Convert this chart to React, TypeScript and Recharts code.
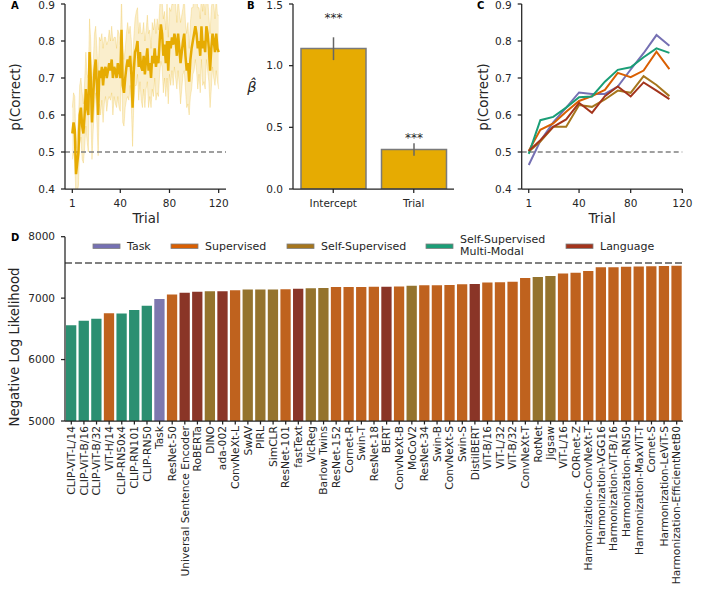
import React from 'react';
import {
  ComposedChart, LineChart, BarChart, Line, Area, Bar, Cell, XAxis, YAxis,
  ReferenceLine, ErrorBar, LabelList, Label,
} from 'recharts';

// ---------- Panel A: p(Correct) per trial (mean + CI half-width) ----------
const meanA = [
  0.55, 0.58, 0.56, 0.44, 0.47, 0.50, 0.60, 0.62, 0.57, 0.55,
  0.60, 0.67, 0.62, 0.60, 0.77, 0.70, 0.58, 0.65, 0.72, 0.75,
  0.68, 0.60, 0.72, 0.70, 0.73, 0.68, 0.72, 0.73, 0.70, 0.72,
  0.74, 0.72, 0.75, 0.70, 0.73, 0.72, 0.70, 0.74, 0.72, 0.70,
  0.83, 0.68, 0.66, 0.70, 0.73, 0.75, 0.73, 0.76, 0.71, 0.62,
  0.72, 0.77, 0.78, 0.80, 0.73, 0.77, 0.73, 0.72, 0.76, 0.71,
  0.75, 0.78, 0.72, 0.74, 0.70, 0.76, 0.74, 0.78, 0.73, 0.76,
  0.74, 0.80, 0.845, 0.82, 0.76, 0.79, 0.74, 0.80, 0.72, 0.80,
  0.78, 0.81, 0.79, 0.82, 0.80, 0.76, 0.82, 0.78, 0.74, 0.77,
  0.80, 0.82, 0.76, 0.72, 0.74, 0.69, 0.75, 0.78, 0.80, 0.82,
  0.84, 0.82, 0.78, 0.80, 0.76, 0.84, 0.78, 0.80, 0.77, 0.84,
  0.82, 0.78, 0.72, 0.78, 0.82, 0.80, 0.77, 0.82, 0.78, 0.77,
];
const halfA = [
  0.07, 0.08, 0.09, 0.07, 0.08, 0.09, 0.08, 0.08, 0.09, 0.08,
  0.09, 0.10, 0.09, 0.10, 0.09, 0.10, 0.10, 0.09, 0.10, 0.09,
  0.10, 0.11, 0.09, 0.10, 0.09, 0.10, 0.09, 0.08, 0.09, 0.08,
  0.09, 0.08, 0.09, 0.10, 0.08, 0.09, 0.08, 0.09, 0.10, 0.09,
  0.09, 0.10, 0.09, 0.08, 0.09, 0.10, 0.09, 0.08, 0.09, 0.105,
  0.09, 0.09, 0.10, 0.09, 0.09, 0.08, 0.09, 0.10, 0.09, 0.09,
  0.08, 0.09, 0.10, 0.09, 0.08, 0.09, 0.09, 0.08, 0.09, 0.10,
  0.09, 0.09, 0.10, 0.09, 0.10, 0.09, 0.09, 0.10, 0.09, 0.09,
  0.10, 0.09, 0.11, 0.09, 0.10, 0.09, 0.10, 0.10, 0.11, 0.10,
  0.09, 0.10, 0.09, 0.10, 0.11, 0.09, 0.10, 0.11, 0.09, 0.10,
  0.09, 0.10, 0.11, 0.09, 0.10, 0.09, 0.10, 0.11, 0.10, 0.09,
  0.10, 0.09, 0.10, 0.11, 0.09, 0.10, 0.09, 0.10, 0.09, 0.10,
];
const trialTicks = [1, 40, 80, 120];
const pTicks = [0.4, 0.5, 0.6, 0.7, 0.8, 0.9];

// ---------- Panel B: regression coefficients ----------
const betaNames = ['Intercept', 'Trial'];
const betaValues = [1.14, 0.32];
const betaErrLow = [0.095, 0.05];
const betaErrHigh = [0.09, 0.05];
const betaTicks = [0, 0.5, 1.0, 1.5];

// ---------- Panel C: binned p(Correct) per model type ----------
const binTrials = [1, 10, 20, 30, 40, 50, 60, 70, 80, 90, 100, 110];
const taskC = [0.465, 0.53, 0.58, 0.62, 0.661, 0.657, 0.657, 0.677, 0.723, 0.767, 0.816, 0.787];
const supC = [0.503, 0.56, 0.577, 0.609, 0.638, 0.651, 0.668, 0.714, 0.702, 0.72, 0.771, 0.724];
const sslC = [0.501, 0.528, 0.568, 0.568, 0.627, 0.622, 0.642, 0.666, 0.66, 0.705, 0.681, 0.651];
const ssmmC = [0.495, 0.586, 0.595, 0.62, 0.648, 0.65, 0.69, 0.722, 0.729, 0.756, 0.78, 0.768];
const langC = [0.503, 0.532, 0.568, 0.588, 0.633, 0.606, 0.651, 0.677, 0.65, 0.688, 0.666, 0.643];

// ---------- Panel D: negative log likelihood per model ----------
const categories = ['Task', 'Supervised', 'Self-Supervised', 'Self-Supervised Multi-Modal', 'Language'];
const lineColors: Record<string, string> = {
  'Task': '#7570b3',
  'Supervised': '#d95f02',
  'Self-Supervised': '#a6761d',
  'Self-Supervised Multi-Modal': '#1b9e77',
  'Language': '#a3341c',
};
const barColors: Record<string, string> = {
  'Task': '#7d78ae',
  'Supervised': '#bf621e',
  'Self-Supervised': '#94732d',
  'Self-Supervised Multi-Modal': '#2b8f71',
  'Language': '#8a3527',
};
const modelNames = [
  'CLIP-ViT-L/14', 'CLIP-ViT-B/16', 'CLIP-ViT-B/32', 'ViT-H/14', 'CLIP-RN50x4', 'CLIP-RN101', 'CLIP-RN50',
  'Task', 'ResNet-50', 'Universal Sentence Encoder', 'RoBERTa', 'DINO', 'ada-002', 'ConvNeXt-L', 'SwAV',
  'PIRL', 'SimCLR', 'ResNet-101', 'fastText', 'VicReg', 'Barlow Twins', 'ResNet-152', 'Cornet-R', 'Swin-T',
  'ResNet-18', 'BERT', 'ConvNeXt-B', 'MoCoV2', 'ResNet-34', 'Swin-B', 'ConvNeXt-S', 'Swin-S', 'DistilBERT',
  'ViT-B/16', 'ViT-L/32', 'ViT-B/32', 'ConvNeXt-T', 'RotNet', 'Jigsaw', 'ViT-L/16', 'CORnet-Z',
  'Harmonization-ConvNeXt-T', 'Harmonization-VGG16', 'Harmonization-ViT-B/16', 'Harmonization-RN50',
  'Harmonization-MaxViT-T', 'Cornet-S', 'Harmonization-LeViT-S', 'Harmonization-EfficientNetB0',
];
const modelNLL = [
  6560, 6630, 6665, 6752, 6750, 6806, 6877,
  6985, 7061, 7088, 7105, 7112, 7114, 7130, 7140,
  7141, 7142, 7143, 7152, 7162, 7164, 7180, 7181, 7182,
  7185, 7186, 7188, 7202, 7208, 7209, 7213, 7228, 7230,
  7255, 7257, 7267, 7327, 7344, 7360, 7403, 7414,
  7441, 7501, 7501, 7510,
  7515, 7520, 7522, 7528,
];
const S = 'Supervised', SS = 'Self-Supervised', MM = 'Self-Supervised Multi-Modal', L = 'Language', T = 'Task';
const modelType = [
  MM, MM, MM, S, MM, MM, MM,
  T, S, L, L, SS, L, S, SS,
  SS, SS, S, L, SS, SS, S, S, S,
  S, L, S, SS, S, S, S, S, L,
  S, S, S, S, SS, SS, S, S,
  S, S, S, S,
  S, S, S, S,
];
const baselineNLL = 7571;
const nllTicks = [5000, 6000, 7000, 8000];

// ---------- styling ----------
const FONT = "'DejaVu Sans', sans-serif";
const TXT = '#262626';
const AX = { stroke: '#222222', strokeWidth: 1.25 };
const TICK = { fontSize: 10.5, fill: TXT };
const GOLD = '#e6ab02';

const dataA = meanA.map((m, i) => ({ trial: i + 1, mean: m, band: [m - halfA[i], m + halfA[i]] }));
const dataB = betaNames.map((n, i) => ({ name: n, beta: betaValues[i], err: [betaErrLow[i], betaErrHigh[i]] }));
const dataC = binTrials.map((t, i) => ({
  trial: t, task: taskC[i], sup: supC[i], ssl: sslC[i], ssmm: ssmmC[i], lang: langC[i],
}));
const dataD = modelNames.map((n, i) => ({ name: n, nll: modelNLL[i], type: modelType[i] }));

const seriesC = [
  { key: 'task', cat: 'Task' },
  { key: 'sup', cat: 'Supervised' },
  { key: 'ssl', cat: 'Self-Supervised' },
  { key: 'ssmm', cat: 'Self-Supervised Multi-Modal' },
  { key: 'lang', cat: 'Language' },
];

const vText = (x: number, y: number, s: string, size = 13.3) => (
  <text x={x} y={y} transform={`rotate(-90 ${x} ${y})`} textAnchor="middle" fontSize={size} fill={TXT}>{s}</text>
);

const CatTick = (props: any) => {
  const { x, y, payload } = props;
  return (
    <text x={x} y={y} transform={`rotate(-90 ${x} ${y})`} textAnchor="end" dy="0.35em" fontSize={10.7} fill={TXT}>
      {payload.value}
    </text>
  );
};

const renderStars = (props: any) => {
  const { x, y, width, height } = props;
  return (
    <text x={Number(x) + Number(width) / 2} y={Number(y) - 0.19 * Number(height)} textAnchor="middle" fontSize={12} fill={TXT}>
      ***
    </text>
  );
};

const legendItems = [
  { cat: 'Task', sx: 93, lines: ['Task'] },
  { cat: 'Supervised', sx: 171, lines: ['Supervised'] },
  { cat: 'Self-Supervised', sx: 287, lines: ['Self-Supervised'] },
  { cat: 'Self-Supervised Multi-Modal', sx: 426, lines: ['Self-Supervised', 'Multi-Modal'] },
  { cat: 'Language', sx: 566, lines: ['Language'] },
];

export default function App() {
  return (
    <div style={{ position: 'absolute', left: 0, top: 0, width: 701, height: 591, fontFamily: FONT, background: '#fff', overflow: 'hidden' }}>
      {/* Panel A */}
      <div style={{ position: 'absolute', left: 0, top: 0 }}>
        <ComposedChart width={240} height={236} data={dataA} margin={{ top: 4, right: 14, bottom: 0, left: 0 }}>
          <XAxis type="number" dataKey="trial" domain={[-4.95, 125.95]} allowDataOverflow ticks={trialTicks}
            height={47} tickSize={4} tickMargin={7} tick={TICK} axisLine={AX} tickLine={AX}>
            <Label content={() => <text x={146} y={223} textAnchor="middle" fontSize={13.3} fill={TXT}>Trial</text>} />
          </XAxis>
          <YAxis type="number" domain={[0.4, 0.9]} allowDataOverflow ticks={pTicks} width={65} tickSize={4} tickMargin={6}
            tick={TICK} axisLine={AX} tickLine={AX} tickFormatter={(v: number) => v.toFixed(1)}>
            <Label content={() => vText(20, 97, 'p(Correct)')} />
          </YAxis>
          <Area type="linear" dataKey="band" stroke={GOLD} strokeOpacity={0.22} strokeWidth={1} fill={GOLD} fillOpacity={0.2}
            isAnimationActive={false} dot={false} activeDot={false} />
          <ReferenceLine y={0.5} stroke="#808080" strokeWidth={1.5} strokeDasharray="5 3" />
          <Line type="linear" dataKey="mean" stroke={GOLD} strokeWidth={2.5} dot={false} activeDot={false} isAnimationActive={false} />
        </ComposedChart>
      </div>

      {/* Panel B */}
      <div style={{ position: 'absolute', left: 230, top: 0 }}>
        <BarChart width={240} height={225} data={dataB} margin={{ top: 4, right: 16, bottom: 0, left: 0 }}>
          <XAxis dataKey="name" height={36} tickSize={4} tickMargin={7} tick={TICK} axisLine={AX} tickLine={AX} />
          <YAxis type="number" domain={[0, 1.5]} allowDataOverflow ticks={betaTicks} width={63} tickSize={4} tickMargin={6}
            tick={TICK} axisLine={AX} tickLine={AX} tickFormatter={(v: number) => v.toFixed(1)}>
            <Label content={() => (
              <text x={22} y={92} textAnchor="middle" fontSize={14.5} fontStyle="italic" fill={TXT}>{'\u03B2\u0302'}</text>
            )} />
          </YAxis>
          <Bar dataKey="beta" barSize={65} fill={GOLD} stroke="#7a7a7a" strokeWidth={1.5} isAnimationActive={false}>
            <ErrorBar dataKey="err" width={0} stroke="#666666" strokeWidth={1.5} direction="y" />
            <LabelList dataKey="beta" content={renderStars} />
          </Bar>
        </BarChart>
      </div>

      {/* Panel C */}
      <div style={{ position: 'absolute', left: 460, top: 0 }}>
        <LineChart width={241} height={236} data={dataC} margin={{ top: 4, right: 18.7, bottom: 0, left: 0 }}>
          <XAxis type="number" dataKey="trial" domain={[-4.45, 120]} allowDataOverflow ticks={trialTicks}
            height={47} tickSize={4} tickMargin={7} tick={TICK} axisLine={AX} tickLine={AX}>
            <Label content={() => <text x={142} y={223} textAnchor="middle" fontSize={13.3} fill={TXT}>Trial</text>} />
          </XAxis>
          <YAxis type="number" domain={[0.4, 0.9]} allowDataOverflow ticks={pTicks} width={61.7} tickSize={4} tickMargin={6}
            tick={TICK} axisLine={AX} tickLine={AX} tickFormatter={(v: number) => v.toFixed(1)}>
            <Label content={() => vText(27.5, 97, 'p(Correct)')} />
          </YAxis>
          <ReferenceLine y={0.5} stroke="#808080" strokeWidth={1.5} strokeDasharray="5 3" />
          {seriesC.map((s) => (
            <Line key={s.key} type="linear" dataKey={s.key} stroke={lineColors[s.cat]} strokeWidth={2}
              dot={false} activeDot={false} isAnimationActive={false} />
          ))}
        </LineChart>
      </div>

      {/* Panel D */}
      <div style={{ position: 'absolute', left: 0, top: 225 }}>
        <BarChart width={701} height={366} data={dataD} margin={{ top: 11.7, right: 18, bottom: 0, left: 0 }}>
          <XAxis dataKey="name" interval={0} height={170} tickSize={3.5} tickMargin={1.5} tick={<CatTick />}
            axisLine={AX} tickLine={AX} />
          <YAxis type="number" domain={[5000, 8000]} allowDataOverflow ticks={nllTicks} width={65} tickSize={4} tickMargin={6}
            tick={TICK} axisLine={AX} tickLine={AX}>
            <Label content={() => vText(19, 122, 'Negative Log Likelihood')} />
          </YAxis>
          <Bar dataKey="nll" barSize={10.3} isAnimationActive={false}>
            {dataD.map((d, i) => <Cell key={i} fill={barColors[d.type]} />)}
          </Bar>
          <ReferenceLine y={baselineNLL} stroke="#808080" strokeWidth={2} strokeDasharray="7 3" />
        </BarChart>
      </div>

      {/* Panel letters and legend */}
      <svg width={701} height={591} style={{ position: 'absolute', left: 0, top: 0, pointerEvents: 'none' }}>
        <g fontWeight="bold" fontSize={10} fill="#000">
          <text x={11} y={9}>A</text>
          <text x={247} y={9}>B</text>
          <text x={477} y={9}>C</text>
          <text x={11} y={241}>D</text>
        </g>
        {legendItems.map((it) => (
          <g key={it.cat}>
            <rect x={it.sx} y={244} width={27} height={4.5} fill={lineColors[it.cat]} stroke="#7f7f7f" strokeWidth={0.8} />
            {it.lines.length === 1 ? (
              <text x={it.sx + 34} y={250} fontSize={11} fill={TXT}>{it.lines[0]}</text>
            ) : (
              <>
                <text x={it.sx + 34} y={243} fontSize={11} fill={TXT}>{it.lines[0]}</text>
                <text x={it.sx + 34} y={255} fontSize={11} fill={TXT}>{it.lines[1]}</text>
              </>
            )}
          </g>
        ))}
      </svg>
    </div>
  );
}
